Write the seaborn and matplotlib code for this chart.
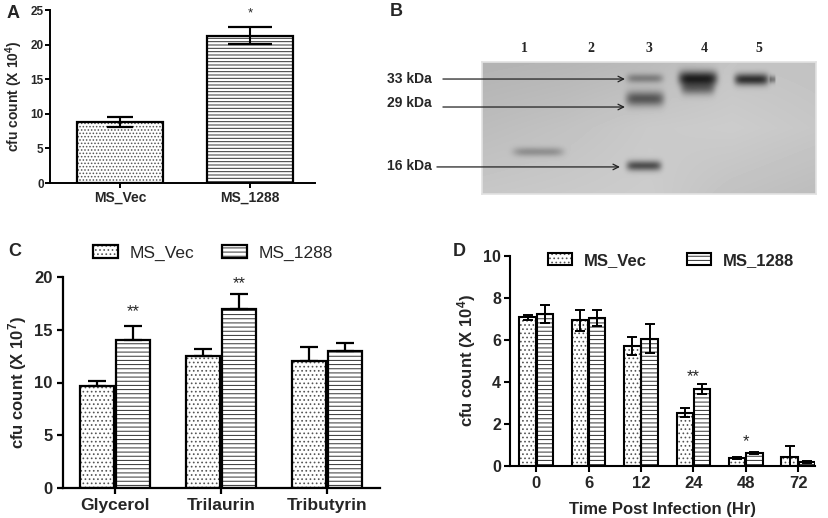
import numpy as np
import pandas as pd
import seaborn as sns
import matplotlib.pyplot as plt
from matplotlib.patches import Patch, Rectangle

# ---------------- data ----------------
# A: cfu count (X 10^4)
a_strains = ["MS_Vec", "MS_1288"]
a_mean = [8.8, 21.3]
a_sd = [0.7, 1.2]
a_star_y = 24.05

# B: western blot (positions in blot fractions)
lanes = ["1", "2", "3", "4", "5"]
lane_x = [0.126, 0.326, 0.500, 0.665, 0.829]
kda_labels = ["33 kDa", "29 kDa", "16 kDa"]
kda_text_y = [0.871, 0.689, 0.212]
kda_arrow_y = [0.871, 0.659, 0.205]
kda_arrow_tail = [-0.117, -0.117, -0.135]
kda_arrow_tip = [0.428, 0.428, 0.413]
# bands: centre x, centre y, half width, sigma y, darkness
band_x = [0.168, 0.488, 0.488, 0.485, 0.647, 0.647, 0.808, 0.871]
band_y = [0.318, 0.879, 0.723, 0.212, 0.879, 0.800, 0.871, 0.871]
band_hw = [0.075, 0.054, 0.057, 0.052, 0.058, 0.050, 0.051, 0.009]
band_sy = [0.025, 0.025, 0.040, 0.028, 0.040, 0.035, 0.032, 0.020]
band_dark = [0.20, 0.25, 0.42, 0.48, 0.62, 0.32, 0.58, 0.28]
bg_cols = [0.0, 0.25, 0.5, 0.75, 1.0]
bg_rows = [0.0, 0.5, 1.0]
bg_vals = [[0.78, 0.79, 0.80, 0.76, 0.74],
           [0.74, 0.76, 0.79, 0.80, 0.78],
           [0.70, 0.71, 0.73, 0.77, 0.76]]

# C: cfu count (X 10^7)
c_substrates = ["Glycerol", "Trilaurin", "Tributyrin"]
c_vec = [9.7, 12.5, 12.0]
c_vec_sd = [0.4, 0.7, 1.4]
c_1288 = [14.0, 17.0, 13.0]
c_1288_sd = [1.4, 1.4, 0.7]
c_star_y = [16.26, 18.9]
c_star_idx = [0, 1]

# D: cfu count (X 10^4) over time
d_hours = ["0", "6", "12", "24", "48", "72"]
d_vec = [7.09, 6.94, 5.70, 2.54, 0.38, 0.43]
d_vec_sd = [0.12, 0.50, 0.43, 0.23, 0.03, 0.51]
d_1288 = [7.22, 7.05, 6.06, 3.68, 0.62, 0.19]
d_1288_sd = [0.43, 0.40, 0.70, 0.24, 0.04, 0.03]
d_star_text = ["**", "*"]
d_star_idx = [3, 4]
d_star_y = [4.02, 0.93]

# ---------------- style ----------------
sns.set_style("ticks")
plt.rcParams["font.family"] = ["Liberation Sans", "DejaVu Sans"]
plt.rcParams["mathtext.default"] = "regular"
plt.rcParams["hatch.linewidth"] = 0.7

W, H = 829, 518
fig = plt.figure(figsize=(W / 100, H / 100), dpi=100)


def px_axes(left, top, right, bottom):
    return fig.add_axes([left / W, 1 - bottom / H, (right - left) / W, (bottom - top) / H])


dot_c, line_c = "#555555", "#333333"
styles = {"MS_Vec": ("....", dot_c), "MS_1288": ("----", line_c)}


def hatch_bar(ax, bar, hatch, color, lw):
    bar.set_facecolor("white")
    bar.set_edgecolor(color)
    bar.set_linewidth(0)
    bar.set_hatch(hatch)
    ax.add_patch(Rectangle(bar.get_xy(), bar.get_width(), bar.get_height(),
                           fill=False, edgecolor="black", linewidth=lw, zorder=1.5))


def style_axes(ax, lw, tlen, xsize, ysize, xpad=3, ypad=3):
    sns.despine(ax=ax)
    for s in ["left", "bottom"]:
        ax.spines[s].set_linewidth(lw)
        ax.spines[s].set_color("black")
    ax.tick_params(axis="x", direction="out", length=tlen, width=lw, color="black",
                   labelsize=xsize, pad=xpad)
    ax.tick_params(axis="y", direction="out", length=tlen, width=lw, color="black",
                   labelsize=ysize, pad=ypad)
    for lab in ax.get_xticklabels() + ax.get_yticklabels():
        lab.set_fontweight("bold")


def legend_handle(name, lw):
    h, c = styles[name]
    return (Patch(facecolor="white", edgecolor=c, linewidth=0, hatch=h),
            Patch(facecolor="none", edgecolor="black", linewidth=lw))


# ---------------- panel A ----------------
ax_a = px_axes(50, 10, 315, 183)
sns.barplot(x=a_strains, y=a_mean, color="white", width=0.66, errorbar=None,
            saturation=1, ax=ax_a)
a_bars = list(ax_a.patches)
a_hatch = [".....", "-----"]
a_caps = [9.7, 16]
for i, bar in enumerate(a_bars):
    hatch_bar(ax_a, bar, a_hatch[i], styles[a_strains[i]][1], 1.6)
    cx = bar.get_x() + bar.get_width() / 2
    ax_a.errorbar(cx, a_mean[i], yerr=a_sd[i], fmt="none", ecolor="black",
                  elinewidth=1.5, capsize=a_caps[i], capthick=1.6, zorder=3)
cx1 = a_bars[1].get_x() + a_bars[1].get_width() / 2
ax_a.text(cx1, a_star_y, "*", ha="center", va="baseline", fontsize=9.5, clip_on=False)
ax_a.set_xlim(-0.54, 1.5)
ax_a.set_ylim(0, 25)
ax_a.set_yticks(range(0, 26, 5))
ax_a.set_ylabel("cfu count (X 10$^{4}$)", fontsize=10, fontweight="bold", labelpad=4)
style_axes(ax_a, 1.4, 3.5, 10, 8.5, xpad=2, ypad=1)

# ---------------- panel B ----------------
ax_b = px_axes(482, 62, 816, 194)
u = np.linspace(0, 1, 334)
v = np.linspace(0, 1, 132)
rows = np.array([np.interp(u, bg_cols, r) for r in bg_vals])
img = np.column_stack([np.interp(v, bg_rows, rows[:, j]) for j in range(len(u))])
U, V = np.meshgrid(u, v)
for xc, yc, hw, sy, d in zip(band_x, band_y, band_hw, band_sy, band_dark):
    img = img - d * np.exp(-((U - xc) / hw) ** 6) * np.exp(-0.5 * ((V - yc) / sy) ** 2)
img = np.clip(img, 0.08, 1)
ax_b.imshow(img, cmap="gray", vmin=0, vmax=1, origin="lower", extent=(0, 1, 0, 1),
            aspect="auto", interpolation="bilinear")
ax_b.set_xlim(0, 1)
ax_b.set_ylim(0, 1)
for s in ax_b.spines.values():
    s.set_color("#e2e2e2")
    s.set_linewidth(1.2)
ax_b.set_yticks([])
ax_b.xaxis.tick_top()
ax_b.set_xticks(lane_x, lanes)
ax_b.tick_params(axis="x", length=0, pad=5)
for lab in ax_b.get_xticklabels():
    lab.set_fontfamily("Liberation Serif")
    lab.set_fontweight("bold")
    lab.set_fontsize(10)
for lab, ty, ay, tail, tip in zip(kda_labels, kda_text_y, kda_arrow_y,
                                  kda_arrow_tail, kda_arrow_tip):
    ax_b.text(-0.284, ty, lab, ha="left", va="center", fontsize=10, fontweight="bold")
    ax_b.annotate("", xy=(tip, ay), xytext=(tail, ay), annotation_clip=False,
                  arrowprops=dict(arrowstyle="->", color="#222222", lw=0.9,
                                  shrinkA=0, shrinkB=0))

# ---------------- panel C ----------------
ax_c = px_axes(63, 277, 380, 488)
df_c = pd.DataFrame({
    "substrate": c_substrates * 2,
    "strain": ["MS_Vec"] * 3 + ["MS_1288"] * 3,
    "cfu": c_vec + c_1288,
})
sns.barplot(data=df_c, x="substrate", y="cfu", hue="strain", order=c_substrates,
            hue_order=["MS_Vec", "MS_1288"], palette=["white", "white"], width=0.68,
            gap=0.05, errorbar=None, saturation=1, legend=False, ax=ax_c)
c_means = {"MS_Vec": c_vec, "MS_1288": c_1288}
c_sds = {"MS_Vec": c_vec_sd, "MS_1288": c_1288_sd}
c_centers = {}
for name, cont in zip(["MS_Vec", "MS_1288"], ax_c.containers):
    h, col = styles[name]
    xs = []
    for bar in cont:
        hatch_bar(ax_c, bar, h, col, 1.6)
        xs.append(bar.get_x() + bar.get_width() / 2)
    c_centers[name] = xs
    ax_c.errorbar(xs, c_means[name], yerr=[np.zeros(3), c_sds[name]], fmt="none",
                  ecolor="black", elinewidth=1.6, capsize=6.5, capthick=1.6, zorder=3)
for idx, sy in zip(c_star_idx, c_star_y):
    ax_c.text(c_centers["MS_1288"][idx], sy, "**", ha="center", va="baseline",
              fontsize=12, clip_on=False)
ax_c.set_xlim(-0.49, 2.5)
ax_c.set_ylim(0, 20)
ax_c.set_yticks(range(0, 21, 5))
ax_c.set_xlabel("")
ax_c.set_ylabel("cfu count (X 10$^{7}$)", fontsize=12, fontweight="bold", labelpad=4)
style_axes(ax_c, 1.6, 4.5, 12.5, 12, xpad=3, ypad=3)
ax_c.legend(handles=[legend_handle("MS_Vec", 1.6), legend_handle("MS_1288", 1.6)],
            labels=["MS_Vec", "MS_1288"], ncol=2, loc="center",
            bbox_to_anchor=(0.473, 1.114), frameon=False, fontsize=12.5,
            handlelength=1.45, handleheight=0.72, handletextpad=0.66,
            columnspacing=1.6, borderaxespad=0, borderpad=0)

# ---------------- panel D ----------------
ax_d = px_axes(510, 256, 815, 466)
df_d = pd.DataFrame({
    "hour": d_hours * 2,
    "strain": ["MS_Vec"] * 6 + ["MS_1288"] * 6,
    "cfu": d_vec + d_1288,
})
sns.barplot(data=df_d, x="hour", y="cfu", hue="strain", order=d_hours,
            hue_order=["MS_Vec", "MS_1288"], palette=["white", "white"], width=0.66,
            gap=0.05, errorbar=None, saturation=1, legend=False, ax=ax_d)
d_means = {"MS_Vec": d_vec, "MS_1288": d_1288}
d_sds = {"MS_Vec": d_vec_sd, "MS_1288": d_1288_sd}
for name, cont in zip(["MS_Vec", "MS_1288"], ax_d.containers):
    h, col = styles[name]
    xs = []
    for bar in cont:
        hatch_bar(ax_d, bar, h, col, 1.5)
        xs.append(bar.get_x() + bar.get_width() / 2)
    ax_d.errorbar(xs, d_means[name], yerr=d_sds[name], fmt="none", ecolor="black",
                  elinewidth=1.4, capsize=3.6, capthick=1.4, zorder=3)
for txt, idx, sy in zip(d_star_text, d_star_idx, d_star_y):
    ax_d.text(idx, sy, txt, ha="center", va="baseline", fontsize=12, clip_on=False)
ax_d.set_xlim(-0.5, 5.32)
ax_d.set_ylim(0, 10)
ax_d.set_yticks(range(0, 11, 2))
ax_d.set_xlabel("Time Post Infection (Hr)", fontsize=12, fontweight="bold", labelpad=8)
ax_d.set_ylabel("cfu count (X 10$^{4}$)", fontsize=12, fontweight="bold", labelpad=4)
style_axes(ax_d, 1.5, 4.5, 12, 11.5, xpad=2.5, ypad=2)
ax_d.legend(handles=[legend_handle("MS_Vec", 1.5), legend_handle("MS_1288", 1.5)],
            labels=["MS_Vec", "MS_1288"], ncol=2, loc="center",
            bbox_to_anchor=(0.528, 0.98), frameon=False,
            prop={"weight": "bold", "size": 12},
            handlelength=1.45, handleheight=0.72, handletextpad=0.66,
            columnspacing=2.45, borderaxespad=0, borderpad=0)

# panel letters
for letter, x, y in [("A", 7, 13), ("B", 390, 11), ("C", 8, 252), ("D", 453, 252)]:
    fig.text(x / W, 1 - y / H, letter, ha="left", va="center", fontsize=13,
             fontweight="bold")

fig.savefig("out.png", dpi=100)
plt.close(fig)
